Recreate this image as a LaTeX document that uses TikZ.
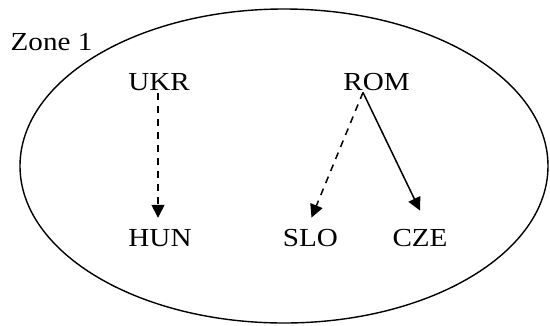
\documentclass[tikz,border=0pt]{standalone}
\usepackage{fontspec}
\setmainfont{Liberation Serif}[FakeStretch=1.12]
\usetikzlibrary{arrows.meta}

\tikzset{
  country/.style={inner sep=0pt, anchor=base, font=\fontsize{26}{30}\selectfont},
  zoneline/.style={line width=1.4pt},
  link/.style={line width=1.5pt, -{Triangle[length=13pt,width=13pt]}},
  weaklink/.style={link, dash pattern=on 7pt off 6pt}
}

\begin{document}
\begin{tikzpicture}[x=1pt,y=-1pt]
  \useasboundingbox (0,0) rectangle (550,325);

  % zone boundary
  \draw[zoneline] (284,166) ellipse [x radius=264, y radius=157];

  % labels
  \node[country] (zone) at (51.5,50) {Zone 1};
  \node[country] (UKR) at (159,90) {UKR};
  \node[country] (ROM) at (376.5,90) {ROM};
  \node[country] (HUN) at (160,246) {HUN};
  \node[country] (SLO) at (310.5,246) {SLO};
  \node[country] (CZE) at (420,246) {CZE};

  % common foot of the two links leaving ROM
  \coordinate (romfoot) at ([xshift=-13.5pt,yshift=-2pt]ROM.south);

  % links
  \draw[weaklink] ([xshift=-1pt,yshift=-3pt]UKR.south) -- ([xshift=-2pt,yshift=11pt]HUN.north);
  \draw[weaklink] (romfoot) -- ([xshift=1pt,yshift=11pt]SLO.north);
  \draw[link] (romfoot) -- ([yshift=18pt]CZE.north);
\end{tikzpicture}
\end{document}
